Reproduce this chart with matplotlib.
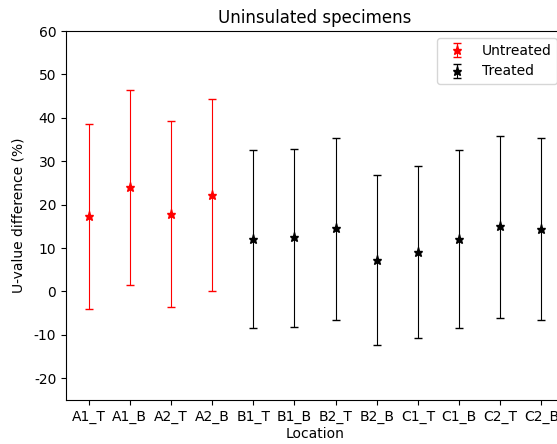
import matplotlib
matplotlib.use("Agg")
import matplotlib.pyplot as plt
import numpy as np

plt.rcParams['axes.unicode_minus'] = False

untreated_loc = ["A1_T", "A1_B", "A2_T", "A2_B"]
untreated_val = [17.3, 24.0, 17.8, 22.2]
untreated_hi = [38.5, 46.4, 39.2, 44.3]
untreated_lo = [-4.0, 1.5, -3.5, 0.2]

treated_loc = ["B1_T", "B1_B", "B2_T", "B2_B", "C1_T", "C1_B", "C2_T", "C2_B"]
treated_val = [12.2, 12.5, 14.6, 7.3, 9.0, 12.0, 15.0, 14.3]
treated_hi = [32.5, 32.8, 35.3, 26.9, 28.8, 32.5, 35.8, 35.3]
treated_lo = [-8.3, -8.1, -6.5, -12.3, -10.8, -8.3, -6.0, -6.5]

fig = plt.figure(figsize=(5.57, 4.44), dpi=100)
ax = fig.add_axes([66 / 557, 1 - 400 / 444, 498 / 557, 369 / 444])

u = np.array(untreated_val)
ax.errorbar(untreated_loc, u,
            yerr=[u - np.array(untreated_lo), np.array(untreated_hi) - u],
            fmt='*', color='red', ecolor='red', elinewidth=0.8, capsize=3,
            markersize=6.5, label="Untreated")

t = np.array(treated_val)
ax.errorbar(treated_loc, t,
            yerr=[t - np.array(treated_lo), np.array(treated_hi) - t],
            fmt='*', color='black', ecolor='black', elinewidth=0.8, capsize=3,
            markersize=6.5, label="Treated")

ax.set_ylim(-25, 60)
ax.set_yticks(np.arange(-20, 61, 10))
ax.set_title("Uninsulated specimens")
ax.set_xlabel("Location", labelpad=2)
ax.set_ylabel("U-value difference (%)", labelpad=6)
ax.legend(loc="upper right")

fig.savefig("out.png", dpi=100)
